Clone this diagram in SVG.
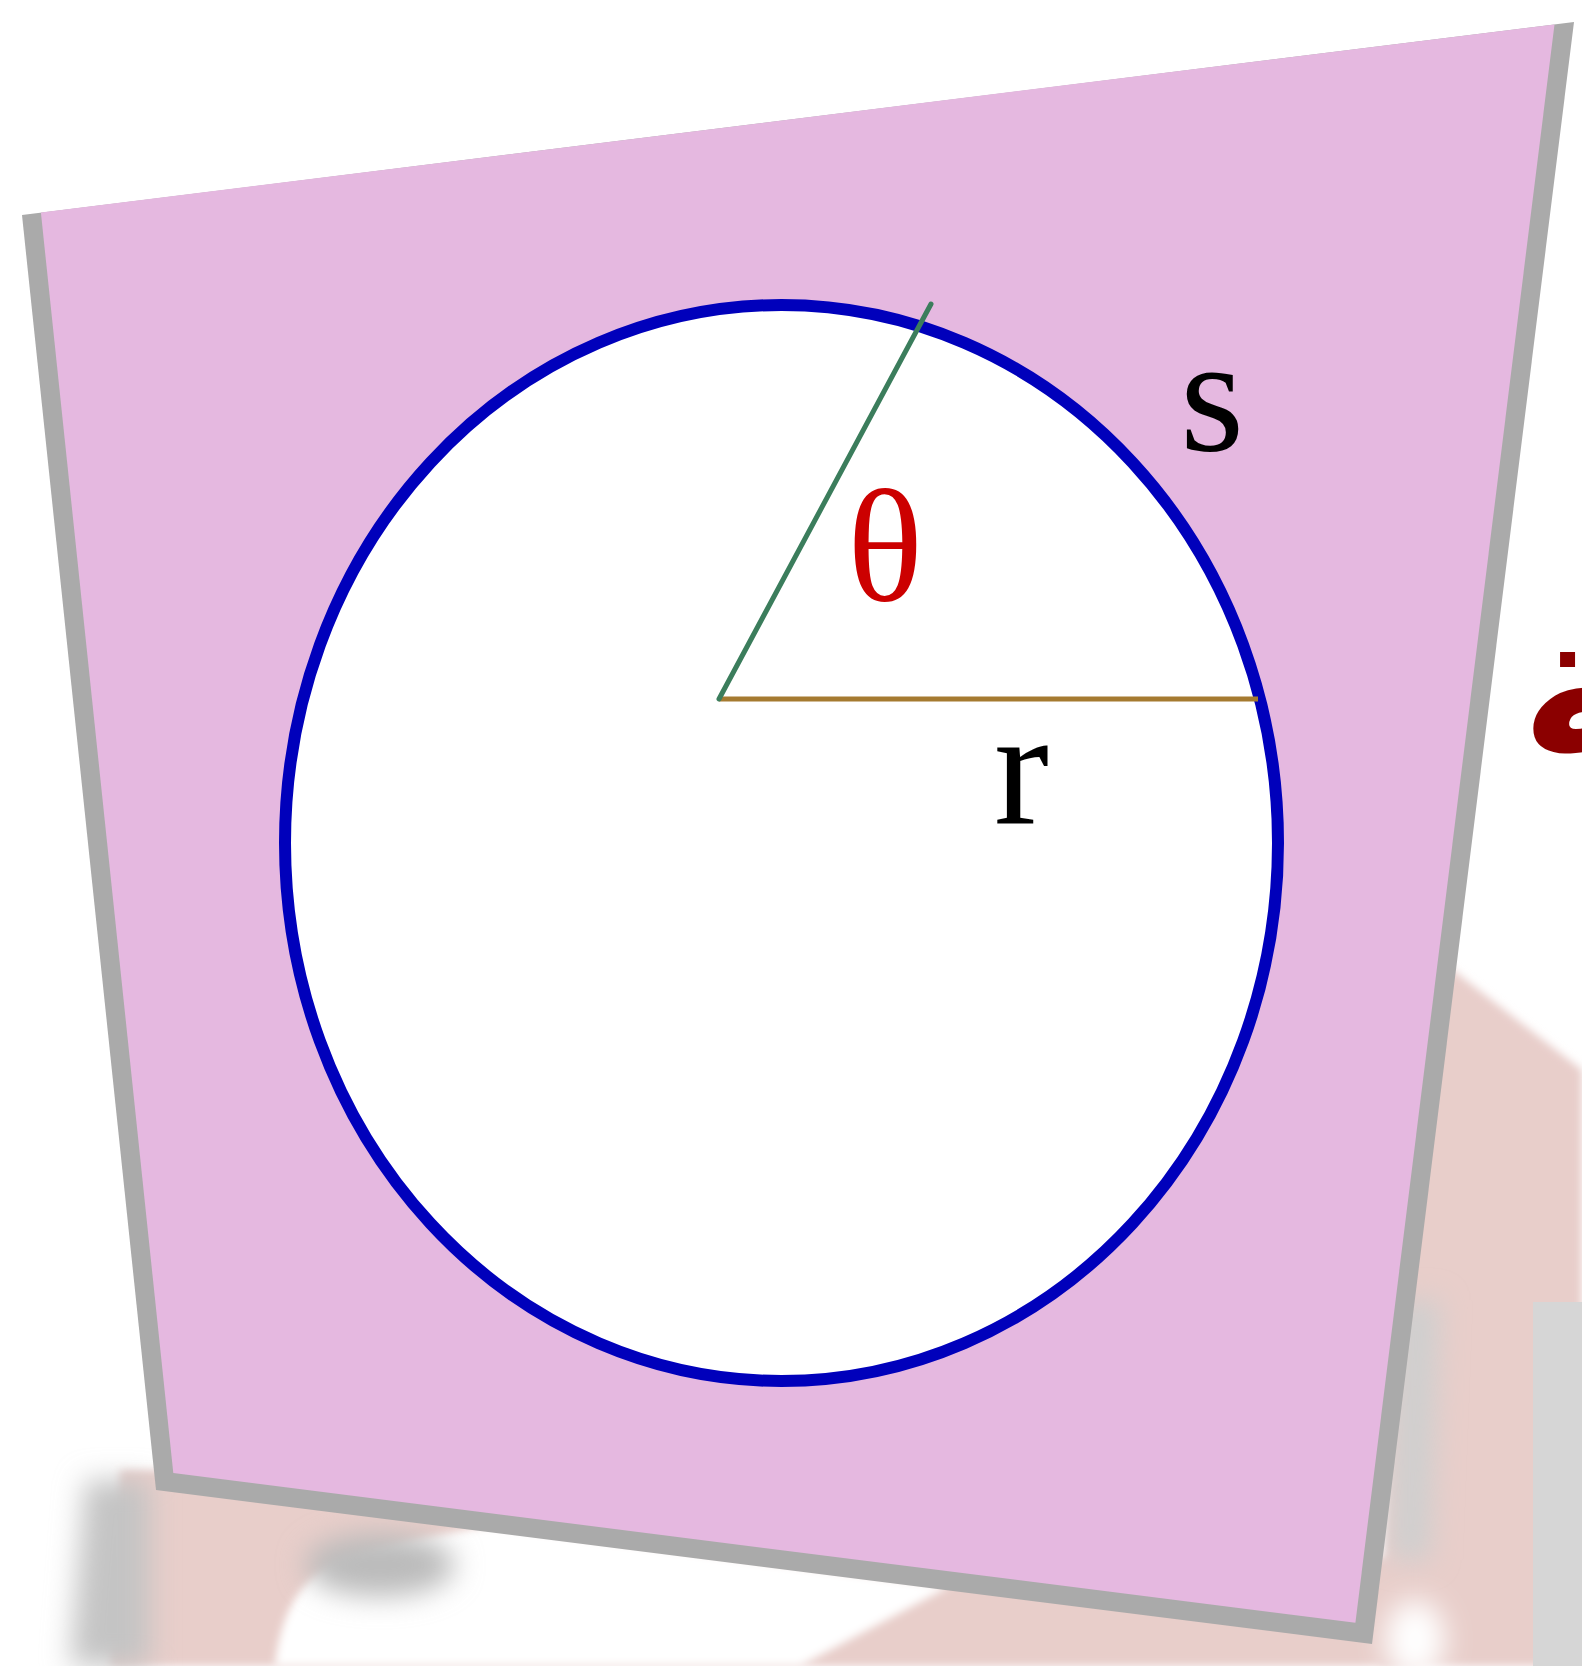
<svg xmlns="http://www.w3.org/2000/svg" width="1582" height="1666" viewBox="0 0 1582 1666">
<style>
.lbl{font-family:"Liberation Serif","Times New Roman",serif;}
</style>
<defs>
<filter id="bl" x="-100%" y="-80%" width="300%" height="260%"><feGaussianBlur stdDeviation="14"/></filter>
<filter id="bl2" x="-50%" y="-50%" width="200%" height="200%"><feGaussianBlur stdDeviation="4"/></filter>
</defs>
<rect width="1582" height="1666" fill="#ffffff"/>
<g id="background">
  <polygon points="1440,960 1582,1070 1582,1666 1380,1666 1400,1200" fill="#E8CECA" filter="url(#bl2)"/>
  <polygon points="120,1470 330,1470 600,1500 1420,1560 1420,1666 110,1666" fill="#E8CECA" filter="url(#bl2)"/>
  <polygon points="85,1480 150,1480 150,1666 70,1666" fill="#C4C4C4" filter="url(#bl)"/>
  <path d="M275,1666 C280,1620 295,1585 330,1565 C380,1545 440,1535 490,1525 L950,1586 L800,1666 Z" fill="#ffffff" filter="url(#bl2)"/>
  <ellipse cx="380" cy="1565" rx="75" ry="32" fill="#BBBBBB" filter="url(#bl)"/>
  <polygon points="1395,1300 1440,1300 1430,1560 1390,1560" fill="#CFCFCF" filter="url(#bl)"/>
  <ellipse cx="1415" cy="1640" rx="30" ry="40" fill="#ffffff" filter="url(#bl)"/>
  <rect x="1533" y="1302" width="49" height="364" fill="#D6D6D6"/>
</g>
<g id="plane">
  <polygon points="22,215 1574,22 1372,1644 156,1490" fill="#AAAAAA"/>
  <polygon points="40.9,212.6 1554.5,24.4 1355.4,1622.8 173.3,1473.1" fill="#E5B8E0"/>
</g>
<g id="circle">
  <ellipse cx="781.5" cy="843" rx="496.5" ry="538" fill="#ffffff" stroke="#0000BB" stroke-width="12"/>
</g>
<g id="connectors">
  <line x1="719" y1="699" x2="1258" y2="699" stroke="#A57A30" stroke-width="5"/>
  <line x1="719" y1="699" x2="931" y2="304" stroke="#3B7D5C" stroke-width="5" stroke-linecap="round"/>
</g>
<g id="labels">
  <text class="lbl" x="1180" y="450" font-size="165" fill="#000000">s</text>
  <text class="lbl" x="994" y="823" font-size="165" fill="#000000">r</text>
  <text class="lbl" x="885" y="600" font-size="158" fill="#CC0000" text-anchor="middle">θ</text>
  <text x="1520" y="757" font-family="'DejaVu Sans',sans-serif" font-weight="bold" font-size="205" fill="#8B0000">ـة</text>
</g>
</svg>
